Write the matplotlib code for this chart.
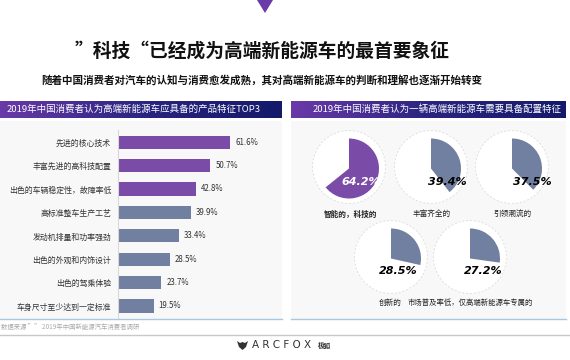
import numpy as np
import matplotlib.pyplot as plt
from matplotlib.patches import Rectangle, Polygon, Circle, Wedge
from matplotlib.colors import LinearSegmentedColormap

plt.rcParams['font.family'] = ['Noto Sans CJK SC', 'DejaVu Sans']

# 左侧: 产品特征 TOP3
features = ['先进的核心技术', '丰富先进的高科技配置', '出色的车辆稳定性，故障率低',
            '高标准整车生产工艺', '发动机排量和功率强劲', '出色的外观和内饰设计',
            '出色的驾乘体验', '车身尺寸至少达到一定标准']
feature_vals = [61.6, 50.7, 42.8, 39.9, 33.4, 28.5, 23.7, 19.5]

# 右侧: 配置特征
config_labels = ['智能的，科技的', '丰富齐全的', '引领潮流的', '创新的',
                 '市场普及率低，仅高端新能源车专属的']
config_vals = [64.2, 39.4, 37.5, 28.5, 27.2]

W, H = 570, 360
PURPLE = '#7B4BA8'
SLATE = '#717FA0'

fig = plt.figure(figsize=(5.7, 3.6), dpi=100)
bg = fig.add_axes([0, 0, 1, 1])
bg.set_xlim(0, W)
bg.set_ylim(H, 0)
bg.axis('off')

# 顶部三角形
bg.add_patch(Polygon([[257, 0], [273, 0], [265, 13]], closed=True, color='#6A3AA8', lw=0))

bg.text(262, 51, '”科技“已经成为高端新能源车的最首要象征', ha='center', va='center',
        fontsize=13.5, fontweight='bold', color='#111111')
bg.text(262, 80, '随着中国消费者对汽车的认知与消费愈发成熟，其对高端新能源车的判断和理解也逐渐开始转变',
        ha='center', va='center', fontsize=7.6, fontweight='bold', color='#111111')


def header(x0, x1, y0, y1, text, xt):
    grad = np.linspace(0, 1, 256).reshape(1, -1)
    cm = LinearSegmentedColormap.from_list('h', ['#6A3AA8', '#2A2580', '#14196A'])
    bg.imshow(grad, cmap=cm, extent=[x0, x1, y1, y0], aspect='auto', zorder=1)
    bg.text(xt, (y0 + y1) / 2, text, ha='center', va='center', color='white',
            fontsize=6.8, zorder=2)


header(0, 282, 101, 118, '2019年中国消费者认为高端新能源车应具备的产品特征TOP3', 134)
header(291, 566, 101, 118, '2019年中国消费者认为一辆高端新能源车需要具备配置特征', 437)

# 面板背景
bg.add_patch(Rectangle((0, 121), 282, 198, color='#F8F8F8', lw=0, zorder=0))
bg.add_patch(Rectangle((291, 121), 275, 198, color='#F8F8F8', lw=0, zorder=0))
bg.plot([0, 282], [319, 319], color='#A8C8E0', lw=1)
bg.plot([291, 566], [319, 319], color='#A8C8E0', lw=1)
bg.plot([0, 570], [335, 335], color='#C8C8C8', lw=1)

bg.text(1, 327, '数据来源 ”” 2019年中国新能源汽车消费者调研', ha='left', va='center',
        fontsize=4.6, color='#AAAAAA')

# 标志
bg.add_patch(Polygon([[237, 341], [240, 343], [242.5, 342], [245, 343], [248, 341],
                      [246, 347], [242.5, 350], [239, 347]], closed=True,
                     color='#333333', lw=0))
bg.text(282, 345.5, 'A R C F O X', ha='center', va='center', fontsize=7.5,
        color='#333333', family=['DejaVu Sans'])
bg.text(324, 345.5, '极狐', ha='center', va='center', fontsize=4.8, color='#333333',
        fontweight='bold')

# 柱状图
ax = fig.add_axes([118 / W, 1 - 317.7 / H, (282 - 118) / W, 187.2 / H])
ax.set_facecolor('none')
y = np.arange(len(features))
colors = [PURPLE] * 3 + [SLATE] * (len(features) - 3)
ax.barh(y, feature_vals, height=0.56, color=colors)
ax.set_xlim(0, 90)
ax.set_ylim(len(features) - 0.5, -0.5)
for s in ['top', 'right', 'bottom']:
    ax.spines[s].set_visible(False)
ax.spines['left'].set_color('#D8D8D8')
ax.set_xticks([])
ax.set_yticks(y)
ax.set_yticklabels(features, fontsize=5.7, color='#333333')
ax.tick_params(axis='y', length=0, pad=5)
for yi, v in zip(y, feature_vals):
    ax.text(v + 2.8, yi, f'{v}%', va='center', ha='left', fontsize=5.7, color='#333333')

# 圆形占比图
centers = [(349, 167), (431, 167), (512, 167), (391, 257), (470, 257)]
pct_pos = [(361, 182), (447, 182), (532, 182), (398, 271), (483, 271)]
label_pos = [(350, 214), (432, 214), (512, 214), (390, 303), (470, 303)]
for i, v in enumerate(config_vals):
    cx, cy = centers[i]
    bg.add_patch(Circle((cx, cy), 36.5, color='white', lw=0, zorder=1.5))
    bg.add_patch(Circle((cx, cy), 36.5, fill=False, ec='#E0E0E0', lw=0.7,
                        ls=(0, (2, 2)), zorder=2))
    col = PURPLE if i == 0 else SLATE
    # y轴向下, 从12点方向顺时针
    bg.add_patch(Wedge((cx, cy + 1.5), 30, -90, -90 + 360 * v / 100, color=col, lw=0, zorder=3))
    bg.text(pct_pos[i][0], pct_pos[i][1], f'{v}%', ha='center', va='center', fontsize=8,
            fontweight='bold', style='italic',
            family=['Liberation Sans Narrow', 'DejaVu Sans'],
            color='white' if i == 0 else 'black', zorder=4)
    bg.text(label_pos[i][0], label_pos[i][1], config_labels[i], ha='center', va='center',
            fontsize=5.5 if i < 4 else 5.3,
            fontweight='bold' if i == 0 else 'normal', color='#222222', zorder=4)

fig.savefig('out.png', dpi=100)
